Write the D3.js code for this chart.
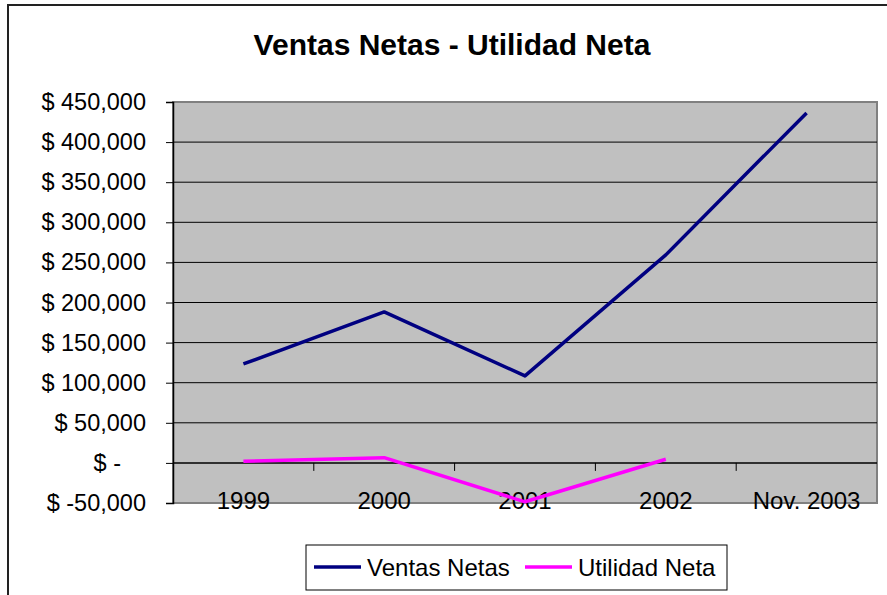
<!DOCTYPE html>
<html>
<head>
<meta charset="utf-8">
<script src="https://cdn.jsdelivr.net/npm/d3@7"></script>
<style>
  body { margin: 0; background: #fff; }
  svg text { font-family: "Liberation Sans", Arial, sans-serif; }
</style>
</head>
<body>
<script>
// chart data
const categories = ["1999", "2000", "2001", "2002", "Nov. 2003"];
const ventasNetas = [123400, 188300, 108500, 259400, 436400];
const utilidadNeta = [2000, 6500, -48500, 4500, null];
const yTicks = [-50000, 0, 50000, 100000, 150000, 200000, 250000, 300000, 350000, 400000, 450000];
const seriesNames = ["Ventas Netas", "Utilidad Neta"];
const seriesColors = ["#000080", "#ff00ff"];

const width = 887, height = 595;
const plot = { left: 173, right: 877, top: 102, bottom: 503 };

const svg = d3.select("body").append("svg")
  .attr("width", width)
  .attr("height", height);

// outer frame (only top and left are visible in the picture)
svg.append("path")
  .attr("d", "M8,596 L8,5 L890,5")
  .attr("fill", "none")
  .attr("stroke", "#222")
  .attr("stroke-width", 2);

svg.append("text")
  .attr("x", 452).attr("y", 55)
  .attr("text-anchor", "middle")
  .attr("font-size", 30).attr("font-weight", "bold")
  .text("Ventas Netas - Utilidad Neta");

const x = d3.scaleBand().domain(categories).range([plot.left, plot.right]);
const y = d3.scaleLinear().domain([-50000, 450000]).range([plot.bottom, plot.top]);

// plot background
svg.append("rect")
  .attr("x", plot.left).attr("y", plot.top)
  .attr("width", plot.right - plot.left).attr("height", plot.bottom - plot.top)
  .attr("fill", "#c0c0c0")
  .attr("stroke", "#808080").attr("stroke-width", 2);

// gridlines
svg.append("g").selectAll("line")
  .data(yTicks.filter(d => d !== 0 && d !== -50000 && d !== 450000))
  .join("line")
  .attr("x1", plot.left).attr("x2", plot.right)
  .attr("y1", d => y(d)).attr("y2", d => y(d))
  .attr("stroke", "#000").attr("stroke-width", 1);

const fmt = d => d === 0 ? "$ -" : "$ " + (d < 0 ? "-" : "") + d3.format(",")(Math.abs(d));

const yAxis = svg.append("g")
  .attr("transform", `translate(${plot.left},0)`)
  .call(d3.axisLeft(y).tickValues(yTicks).tickSize(7).tickPadding(20).tickFormat(fmt));
yAxis.select(".domain").attr("stroke", "#000").attr("stroke-width", 1.5);
yAxis.selectAll(".tick line").attr("stroke", "#000");
yAxis.selectAll(".tick text")
  .attr("font-size", 23.5).attr("fill", "#000")
  .attr("font-family", "Liberation Sans, Arial, sans-serif")
  .attr("dx", d => d === 0 ? -25 : 0);

// category axis along zero
const zeroY = y(0);
svg.append("line")
  .attr("x1", plot.left).attr("x2", plot.right)
  .attr("y1", zeroY).attr("y2", zeroY)
  .attr("stroke", "#000").attr("stroke-width", 1.5);
svg.append("g").selectAll("line")
  .data(categories.slice(1))
  .join("line")
  .attr("x1", d => x(d)).attr("x2", d => x(d))
  .attr("y1", zeroY).attr("y2", zeroY + 8)
  .attr("stroke", "#000");
svg.append("g").selectAll("text")
  .data(categories)
  .join("text")
  .attr("x", d => x(d) + x.bandwidth() / 2)
  .attr("y", 509)
  .attr("text-anchor", "middle")
  .attr("font-size", 24)
  .text(d => d);

// series lines
const line = d3.line()
  .defined(d => d.v !== null)
  .x(d => x(d.c) + x.bandwidth() / 2)
  .y(d => y(d.v));

[ventasNetas, utilidadNeta].forEach((vals, i) => {
  svg.append("path")
    .datum(categories.map((c, j) => ({ c, v: vals[j] })))
    .attr("fill", "none")
    .attr("stroke", seriesColors[i])
    .attr("stroke-width", 3.5)
    .attr("stroke-linejoin", "round")
    .attr("d", line);
});

// legend
const legend = svg.append("g");
legend.append("rect")
  .attr("x", 306).attr("y", 545).attr("width", 421).attr("height", 45)
  .attr("fill", "#fff").attr("stroke", "#000").attr("stroke-width", 1);
const legendX = [314, 525];
seriesNames.forEach((name, i) => {
  legend.append("line")
    .attr("x1", legendX[i]).attr("x2", legendX[i] + 47)
    .attr("y1", 567).attr("y2", 567)
    .attr("stroke", seriesColors[i]).attr("stroke-width", 3.5);
  legend.append("text")
    .attr("x", legendX[i] + 53).attr("y", 576)
    .attr("font-size", 24)
    .text(name);
});
</script>
</body>
</html>
